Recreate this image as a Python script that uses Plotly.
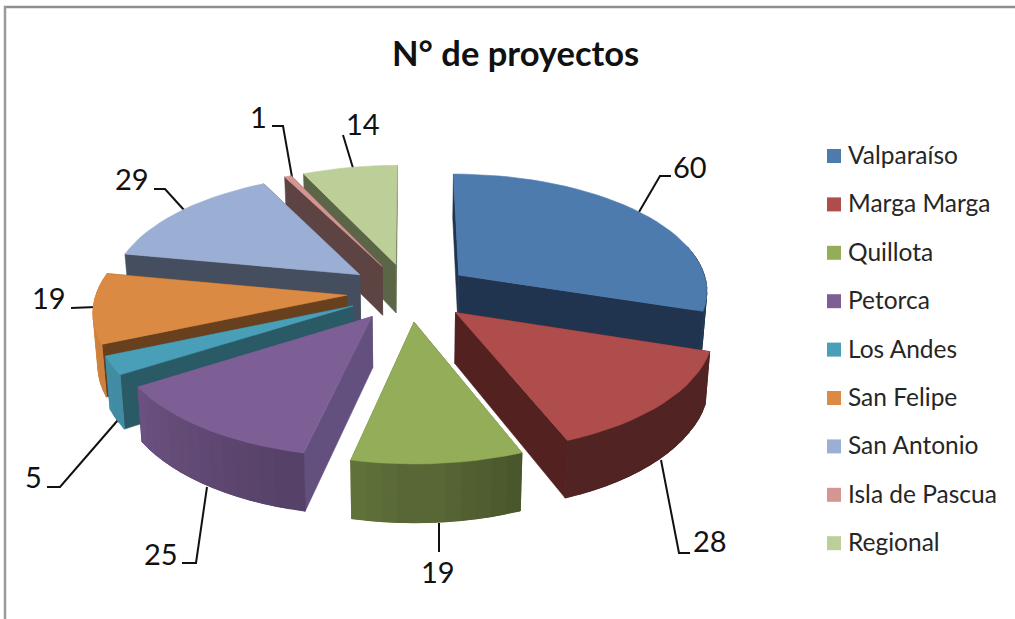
import numpy as np
import plotly.graph_objects as go

regiones = ['Valparaíso', 'Marga Marga', 'Quillota', 'Petorca', 'Los Andes',
            'San Felipe', 'San Antonio', 'Isla de Pascua', 'Regional']
proyectos = [60, 28, 19, 25, 5, 19, 29, 1, 14]

col_top = ['#4E7BAE', '#AE4D4B', '#94AD59', '#7D5F96', '#4A9FB8', '#DB8A43', '#9AAFD3', '#D49593', '#BDCF99']
col_cut = ['#21344F', '#522120', '#5E7339', '#63507F', '#2A5A66', '#69401E', '#444E5F', '#5E4343', '#5B6647']

# back to front, the order excel paints the exploded slices in
orden = [8, 7, 6, 0, 5, 4, 3, 2, 1]

# pie geometry, in pixels of the 1015x619 page
cx, cy = 409, 292
rx, ry = 250, 117     # radius before perspective
expl = 0.25           # explosion, as a part of the radius
persp = 0.12
alto = 50

# labels: text centre, then the leader line
etiq_x = [690, 710, 438, 161, 33, 49, 132, 258, 363]
etiq_y = [166, 540, 571, 553, 476, 297, 178, 116, 123]
guias = [
    [(639, 212), (660, 176), (671, 176)],
    [(661, 460), (679, 553), (690, 553)],
    [(439, 523), (439, 552)],
    [(207, 487), (196, 563), (182, 563)],
    [(118, 420), (60, 487), (47, 487)],
    [(96, 307), (71, 308)],
    [(184, 210), (165, 189), (154, 189)],
    [(292, 177), (283, 126), (272, 126)],
    [(353, 168), (343, 135)],
]


def proyectar(ang, med, radio=1.0):
    # top and bottom screen points of a ground point of a slice, angle clockwise from 12 o'clock
    a, m = np.radians(ang), np.radians(med)
    gx = expl * np.sin(m) + radio * np.sin(a)
    gz = expl * np.cos(m) + radio * np.cos(a)
    s = 1 / (1 + persp * gz)
    x = cx + rx * gx * s
    y = cy - ry * gz * s
    return x, y, cx + (x - cx) * 0.985, y + alto * s


def oscurecer(color, k):
    r, g, b = [int(color[i:i + 2], 16) for i in (1, 3, 5)]
    return '#%02X%02X%02X' % (int(r * k), int(g * k), int(b * k))


def cara(xs, ys, color, nombre=None):
    return go.Scatter(x=xs, y=ys, mode='lines', fill='toself', fillcolor=color,
                      line=dict(color=color, width=0.6), showlegend=False,
                      hoverinfo='text' if nombre else 'skip', text=nombre, hoveron='fills')


fig = go.Figure()

total = sum(proyectos)
acum = np.cumsum([0] + proyectos) / total * 360

for i in orden:
    a0, a1 = acum[i], acum[i + 1]
    med = (a0 + a1) / 2
    angs = np.linspace(a0, a1, max(2, int((a1 - a0) / 3) + 1))
    pts = [proyectar(a, med) for a in angs]
    ap = proyectar(med, med, 0)
    n = len(pts)

    # walls: two cuts and the rim in strips for the shading
    caras = []
    for p in (pts[0], pts[-1]):
        caras.append(((ap[1] + p[1]) / 2, [ap[0], p[0], p[2], ap[2], ap[0]], [ap[1], p[1], p[3], ap[3], ap[1]], col_cut[i]))
    for j in range(n - 1):
        mitad = (angs[j] + angs[j + 1]) / 2
        if np.cos(np.radians(mitad)) > 0.2:
            continue  # back of the rim, hidden and it would peek round the top face
        # strips overlap their neighbours, otherwise the seams show
        tramo = pts[max(j - 1, 0):min(j + 3, n)]
        xs = [p[0] for p in tramo] + [p[2] for p in tramo[::-1]]
        ys = [p[1] for p in tramo] + [p[3] for p in tramo[::-1]]
        k = np.interp(mitad, [0, 158, 193, 237, 250, 281, 360], [.47, .47, .69, .87, .95, 1, 1])
        caras.append(((pts[j][1] + pts[j + 1][1]) / 2, xs + xs[:1], ys + ys[:1], oscurecer(col_top[i], k)))
    for _, xs, ys, c in sorted(caras, key=lambda t: t[0]):
        fig.add_trace(cara(xs, ys, c))

    xs = [ap[0]] + [p[0] for p in pts] + [ap[0]]
    ys = [ap[1]] + [p[1] for p in pts] + [ap[1]]
    fig.add_trace(cara(xs, ys, col_top[i], '%s: %d' % (regiones[i], proyectos[i])))

shapes = [
    dict(type='line', x0=4, x1=1015, y0=7, y1=7, line=dict(color='#8E8E8E', width=2.5)),
    dict(type='line', x0=5, x1=5, y0=6, y1=619, line=dict(color='#9A9A9A', width=2.5)),
]
for g in guias:
    camino = 'M ' + ' L '.join('%d %d' % p for p in g)
    shapes.append(dict(type='path', path=camino, layer='below', line=dict(color='#111111', width=2)))

anots = [dict(x=etiq_x[i], y=etiq_y[i], text=str(proyectos[i]), showarrow=False,
              font=dict(size=29, color='#111111')) for i in range(len(proyectos))]
anots.append(dict(x=515, y=52, text='<b>N° de proyectos</b>', showarrow=False, font=dict(size=34.5, color='#111111')))

# legend drawn by hand, the native one can't get the swatch this close to the text
for i, nombre in enumerate(regiones):
    y = 156 + 48.4 * i
    shapes.append(dict(type='rect', x0=827, x1=841, y0=y - 7, y1=y + 7, fillcolor=col_top[i], line=dict(width=0)))
    anots.append(dict(x=846, y=y - 1.5, text=nombre, xanchor='left', showarrow=False, font=dict(size=24.5, color='#262626')))

fig.update_layout(
    width=1015, height=619, margin=dict(l=0, r=0, t=0, b=0),
    paper_bgcolor='white', plot_bgcolor='white',
    font=dict(family='Lato', color='#262626'),
    showlegend=False,
    xaxis=dict(range=[0, 1015], visible=False, fixedrange=True),
    yaxis=dict(range=[619, 0], visible=False, fixedrange=True),
    shapes=shapes, annotations=anots,
)

fig.write_html("out.html", config=dict(displayModeBar=False), post_script="document.body.style.margin='0';")
